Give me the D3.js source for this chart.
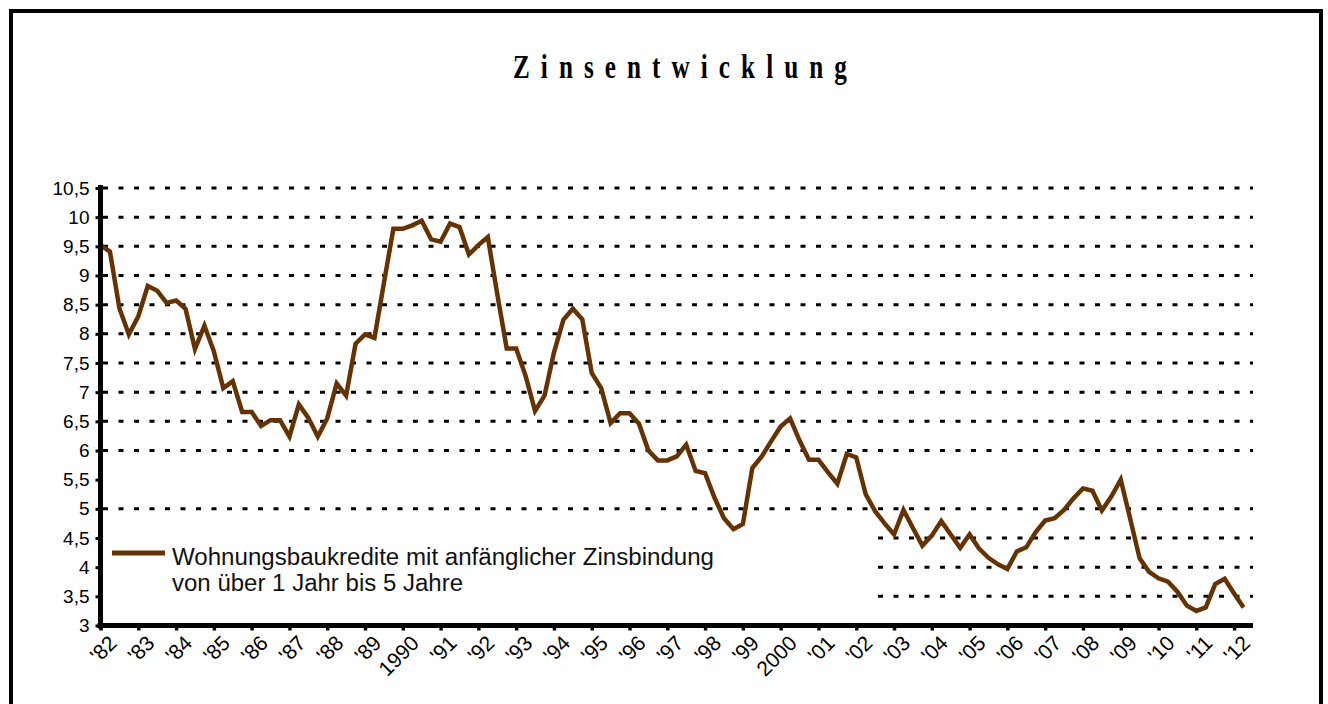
<!DOCTYPE html>
<html>
<head>
<meta charset="utf-8">
<script src="https://cdn.jsdelivr.net/npm/d3@7"></script>
<style>
  html, body { margin: 0; padding: 0; background: #fff; }
  svg { display: block; }
</style>
</head>
<body>
<svg id="chart" width="1328" height="704"></svg>
<script>
// ---- data ----
const chartTitle = "Zinsentwicklung";
const seriesName = ["Wohnungsbaukredite mit anfänglicher Zinsbindung", "von über 1 Jahr bis 5 Jahre"];
// year labels on the category axis (one per year, 4 quarters each)
const yearLabels = ["'82","'83","'84","'85","'86","'87","'88","'89","1990","'91","'92","'93","'94","'95","'96","'97","'98","'99","2000","'01","'02","'03","'04","'05","'06","'07","'08","'09","'10","'11","'12"];
// y tick values and their labels
const yTicks = [3, 3.5, 4, 4.5, 5, 5.5, 6, 6.5, 7, 7.5, 8, 8.5, 9, 9.5, 10, 10.5];
const yTickLabels = ["3","3,5","4","4,5","5","5,5","6","6,5","7","7,5","8","8,5","9","9,5","10","10,5"];
// dotted grid lines (5,5 line is absent in the original)
const gridValues = [3.5, 4, 4.5, 5, 6, 6.5, 7, 7.5, 8, 8.5, 9, 9.5, 10, 10.5];
// quarterly interest rate, 1982 Q1 ... 2012 Q2 (%)
const rates1980s = [9.52,9.41,8.44,7.99, 8.30,8.82,8.74,8.53, 8.57,8.43,7.74,8.14, 7.70,7.07,7.19,6.66,
                    6.66,6.42,6.52,6.52, 6.24,6.79,6.56,6.24, 6.55,7.15,6.94,7.83, 7.99,7.93,8.87,9.80];
const rates1990s = [9.80,9.86,9.94,9.62, 9.58,9.89,9.83,9.36, 9.52,9.66,8.68,7.75, 7.75,7.28,6.68,6.94,
                    7.68,8.24,8.43,8.25, 7.33,7.07,6.47,6.64, 6.64,6.46,6.00,5.83, 5.83,5.90,6.10,5.65,
                    5.61,5.19,4.84,4.65, 4.74,5.70,5.90,6.16];
const rates2000s = [6.41,6.55,6.17,5.84, 5.84,5.63,5.43,5.94, 5.88,5.25,4.96,4.75, 4.56,4.98,4.67,4.37,
                    4.54,4.79,4.56,4.33, 4.56,4.32,4.16,4.05, 3.97,4.27,4.34,4.60, 4.80,4.84,4.98,5.18,
                    5.35,5.31,4.97,5.21, 5.50,4.83,4.15,3.92];
const rates2010s = [3.81,3.75,3.58,3.34, 3.25,3.31,3.71,3.80, 3.55,3.31];
const rates = rates1980s.concat(rates1990s, rates2000s, rates2010s);

// ---- drawing ----
const svg = d3.select("#chart");
const W = 1328, H = 704;
svg.append("rect").attr("width", W).attr("height", H).attr("fill", "#fff");
// outer frame
svg.append("rect").attr("x", 11).attr("y", 11).attr("width", 1310).attr("height", 800)
  .attr("fill", "none").attr("stroke", "#000").attr("stroke-width", 4);

const x = d3.scaleLinear().domain([0, yearLabels.length * 4 - 2]).range([100.5, 1253]);
const y = d3.scaleLinear().domain([3, 10.5]).range([625.5, 188]);
const lineColor = "#663300";

// title
svg.append("text")
  .attr("x", 513).attr("y", 78)
  .attr("font-family", "'Liberation Serif', 'Times New Roman', serif")
  .attr("font-weight", "bold").attr("font-size", 34)
  .attr("letter-spacing", 15)
  .attr("textLength", 345).attr("lengthAdjust", "spacingAndGlyphs")
  .attr("fill", "#000")
  .text(chartTitle);

// grid
svg.append("g").selectAll("line").data(gridValues).join("line")
  .attr("x1", 103).attr("x2", 1253)
  .attr("y1", d => y(d)).attr("y2", d => y(d))
  .attr("stroke", "#000").attr("stroke-width", 3)
  .attr("stroke-dasharray", "5,10.5");

// legend (white box hides grid underneath)
const lg = svg.append("g");
lg.append("rect").attr("x", 103).attr("y", 533).attr("width", 765).attr("height", 80).attr("fill", "#fff");
lg.append("line").attr("x1", 112).attr("x2", 165).attr("y1", 553).attr("y2", 553)
  .attr("stroke", lineColor).attr("stroke-width", 5);
lg.selectAll("text").data(seriesName).join("text")
  .attr("x", 172).attr("y", (d, i) => 565 + i * 26)
  .attr("font-family", "'Liberation Sans', Arial, sans-serif")
  .attr("font-size", 23)
  .attr("textLength", (d, i) => i === 0 ? 542 : 291)
  .attr("lengthAdjust", "spacingAndGlyphs")
  .attr("fill", "#111")
  .text(d => d);

// data line
svg.append("path").datum(rates)
  .attr("fill", "none").attr("stroke", lineColor).attr("stroke-width", 4.5)
  .attr("stroke-linejoin", "miter")
  .attr("d", d3.line().x((d, i) => x(i)).y(d => y(d)));

// y axis
const yAxis = d3.axisLeft(y).tickValues(yTicks).tickSize(5)
  .tickFormat((d, i) => yTickLabels[i]).tickPadding(6);
const gy = svg.append("g").attr("transform", "translate(100.5,0)").call(yAxis);
gy.select(".domain").attr("stroke", "#000").attr("stroke-width", 5)
  .attr("d", `M0,${y(10.5) - 3}V${y(3) + 3}`);
gy.selectAll(".tick line").attr("stroke", "#000").attr("stroke-width", 3);
gy.selectAll(".tick text").attr("font-family", "'Liberation Sans', Arial, sans-serif")
  .attr("font-size", 19).attr("fill", "#000").attr("x", -11);

// x axis
const xTickPos = yearLabels.map((d, k) => k * 4);
const xAxis = d3.axisBottom(x).tickValues(xTickPos).tickSize(5).tickFormat((d, k) => yearLabels[k]);
const gx = svg.append("g").attr("transform", "translate(0,625.5)").call(xAxis);
gx.select(".domain").attr("stroke", "#000").attr("stroke-width", 5)
  .attr("d", `M${x(0) - 3},0H${x(yearLabels.length * 4 - 2)}`);
gx.selectAll(".tick line").attr("stroke", "#000").attr("stroke-width", 3.5);
gx.selectAll(".tick text")
  .attr("font-family", "'Liberation Sans', Arial, sans-serif")
  .attr("font-size", 21).attr("fill", "#000")
  .attr("text-anchor", "end")
  .attr("dy", null).attr("y", null)
  .attr("transform", "translate(17,19) rotate(-45)");
</script>
</body>
</html>
